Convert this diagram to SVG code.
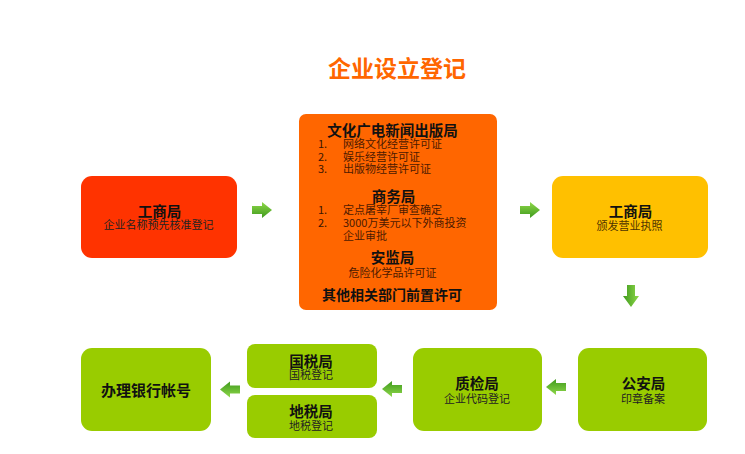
<svg xmlns="http://www.w3.org/2000/svg" width="745" height="454" viewBox="0 0 745 454">
<style>
text{font-family:"Noto Sans CJK SC","Noto Sans",sans-serif;fill:#111}
.t{font-size:14.5px;font-weight:bold;text-anchor:middle}
.s{font-size:11px;text-anchor:middle;fill:#222}
.n{font-size:11px;fill:#3a1500}
.i{font-size:11px;fill:#4d1a00}
.title{font-size:23px;font-weight:bold;fill:#ff6600;text-anchor:middle}
.arrow{fill:url(#ag)}
</style>
<defs>
<linearGradient id="ag" x1="0" y1="0" x2="0" y2="1">
<stop offset="0" stop-color="#8fd84a"/>
<stop offset="1" stop-color="#3f9a1d"/>
</linearGradient>
<path id="arr" d="M0,-4 H10 V-8 L20,0 L10,8 V4 H0 Z"/>
</defs>
<rect width="745" height="454" fill="#fff"/>
<text class="title" x="397" y="76.5">企业设立登记</text>

<g id="node-gsj1">
<rect x="81" y="176" width="156" height="82" rx="11" fill="#ff3300"/>
<text class="t" x="159.5" y="216.5">工商局</text>
<text class="s" x="158.5" y="229">企业名称预先核准登记</text>
</g>

<g id="node-qz">
<rect x="299" y="114" width="198" height="196" rx="7" fill="#ff6600"/>
<text class="t" x="392.5" y="135.5">文化广电新闻出版局</text>
<text class="n" x="318" y="148">1.</text><text class="i" x="343" y="148">网络文化经营许可证</text>
<text class="n" x="318" y="161">2.</text><text class="i" x="343" y="161">娱乐经营许可证</text>
<text class="n" x="318" y="173">3.</text><text class="i" x="343" y="173">出版物经营许可证</text>
<text class="t" x="393.5" y="201.5">商务局</text>
<text class="n" x="318" y="214">1.</text><text class="i" x="343" y="214">定点屠宰厂审查确定</text>
<text class="n" x="318" y="227">2.</text><text class="i" x="343" y="227">3000万美元以下外商投资</text>
<text class="i" x="343" y="240">企业审批</text>
<text class="t" x="392.5" y="262.5">安监局</text>
<text class="s" x="392.5" y="277" style="fill:#4d1a00">危险化学品许可证</text>
<text class="t" x="392" y="299.5" style="font-size:14px">其他相关部门前置许可</text>
</g>

<g id="node-gsj2">
<rect x="552" y="176" width="156" height="82" rx="11" fill="#ffc000"/>
<text class="t" x="630.5" y="216.5">工商局</text>
<text class="s" x="629.5" y="230" style="fill:#4d3300">颁发营业执照</text>
</g>

<g id="node-gaj">
<rect x="578" y="348" width="129" height="83" rx="11" fill="#99cc00"/>
<text class="t" x="643.5" y="388.5">公安局</text>
<text class="s" x="643" y="403">印章备案</text>
</g>

<g id="node-zjj">
<rect x="413" y="348" width="129" height="83" rx="11" fill="#99cc00"/>
<text class="t" x="477" y="388.5">质检局</text>
<text class="s" x="477" y="403">企业代码登记</text>
</g>

<g id="node-gsj-guo">
<rect x="247" y="344" width="130" height="44" rx="8" fill="#99cc00"/>
<text class="t" x="311" y="366.5">国税局</text>
<text class="s" x="311" y="379">国税登记</text>
</g>

<g id="node-dsj">
<rect x="247" y="395" width="130" height="43" rx="8" fill="#99cc00"/>
<text class="t" x="311" y="416.5">地税局</text>
<text class="s" x="311" y="430">地税登记</text>
</g>

<g id="node-bank">
<rect x="81" y="348" width="130" height="83" rx="11" fill="#99cc00"/>
<text class="t" x="146" y="395.5" style="font-size:15px">办理银行帐号</text>
</g>

<g id="connectors">
<use href="#arr" class="arrow" transform="translate(252,210)"/>
<use href="#arr" class="arrow" transform="translate(520,210)"/>
<use href="#arr" class="arrow" transform="translate(631,285) rotate(90) scale(1.1,1)"/>
<use href="#arr" class="arrow" transform="translate(566,387) rotate(180)"/>
<use href="#arr" class="arrow" transform="translate(402,389) rotate(180)"/>
<use href="#arr" class="arrow" transform="translate(240,389.5) rotate(180)"/>
</g>
</svg>
